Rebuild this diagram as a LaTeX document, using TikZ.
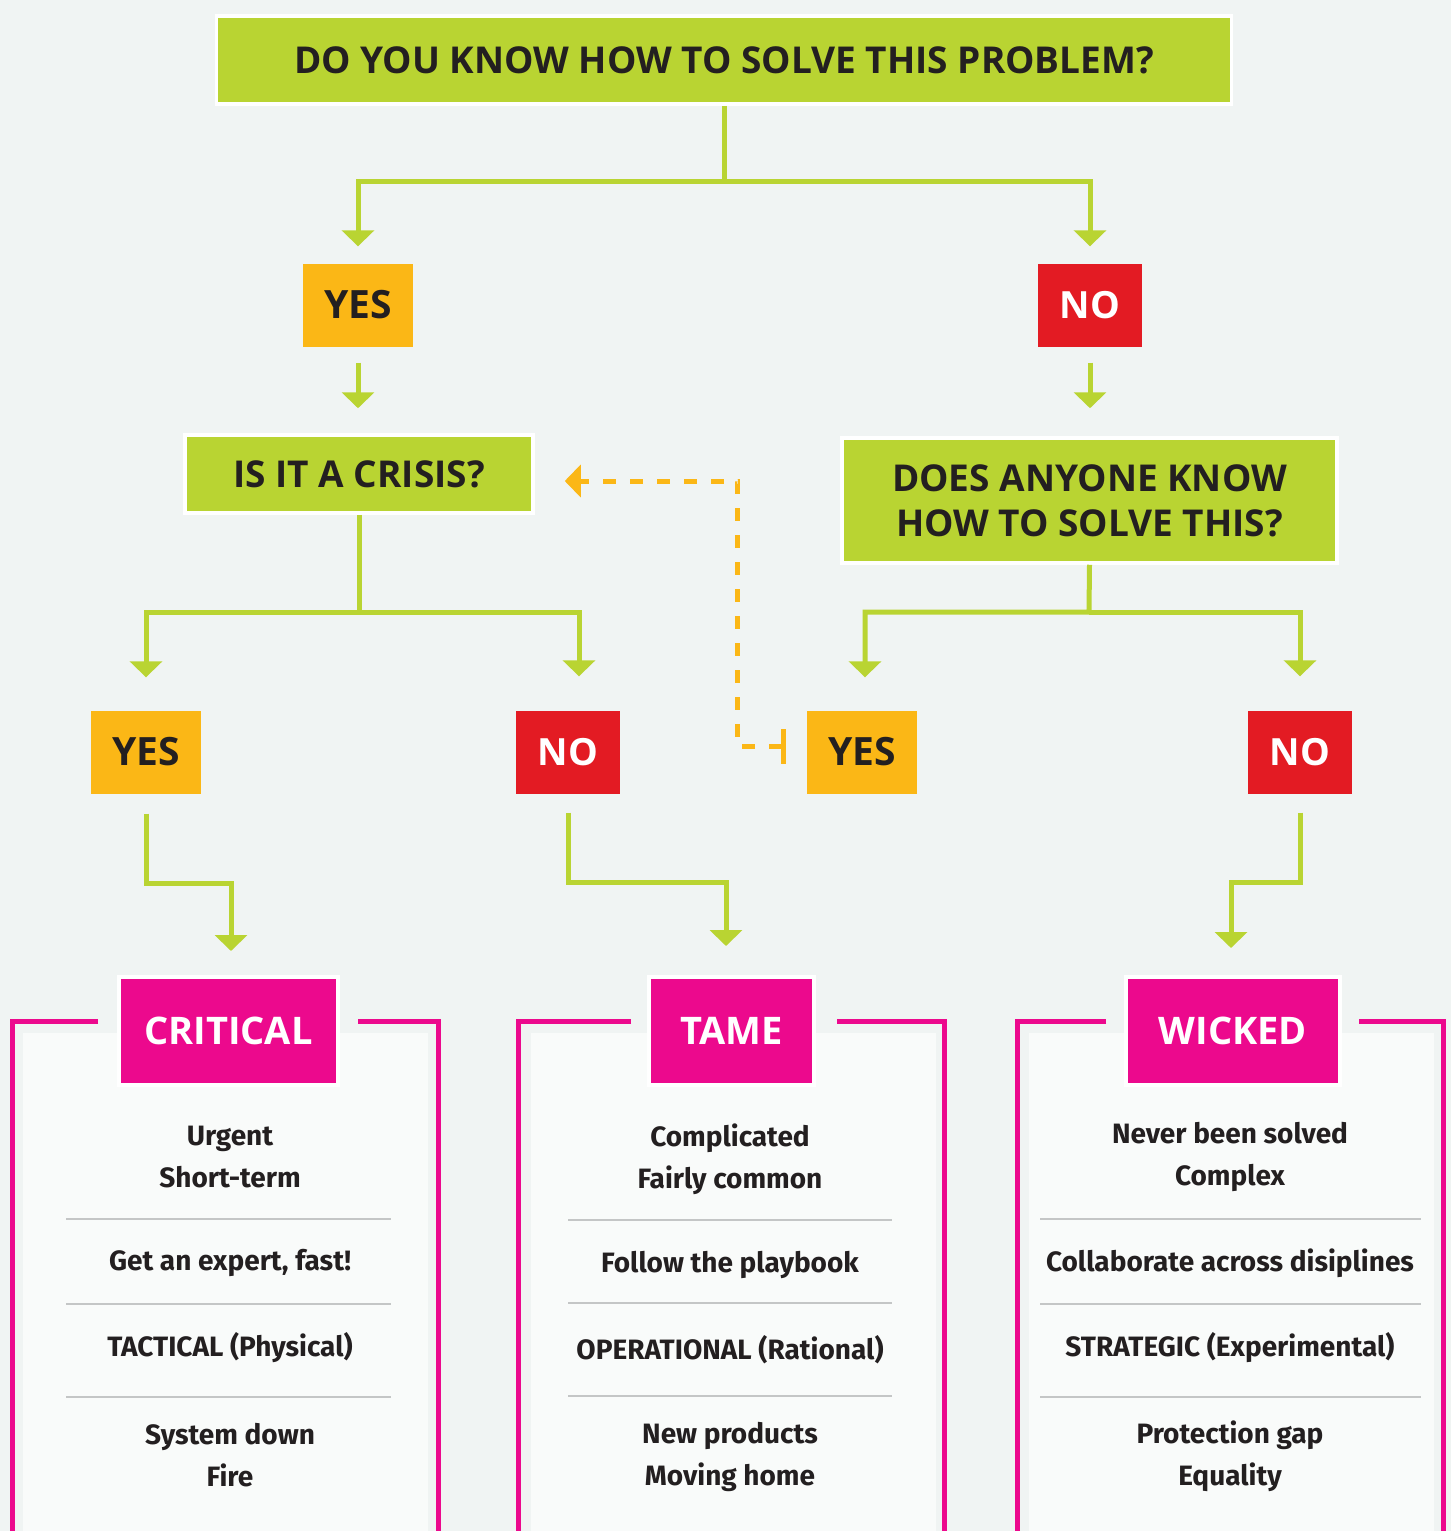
\documentclass[tikz,border=0pt]{standalone}
\usepackage{fontspec}
\setmainfont{Fira Sans}
\newfontfamily\headfont{Open Sans}
\usetikzlibrary{arrows.meta}

\definecolor{paper}{RGB}{240,244,243}
\definecolor{sheet}{RGB}{249,251,250}
\definecolor{askgreen}{RGB}{185,212,50}
\definecolor{yesorange}{RGB}{251,183,22}
\definecolor{nored}{RGB}{227,27,35}
\definecolor{kindpink}{RGB}{236,9,141}
\definecolor{ink}{RGB}{35,31,32}
\definecolor{rulegray}{RGB}{196,198,198}

\tikzset{
  ask/.style={fill=askgreen, draw=white, line width=3.5pt, text=ink, align=center,
    inner sep=0pt, font=\headfont\fontsize{37}{45}\selectfont\bfseries},
  yesbox/.style={fill=yesorange, minimum width=110pt, minimum height=83pt, inner sep=0pt,
    text=ink, font=\headfont\fontsize{39}{40}\selectfont\bfseries},
  nobox/.style={fill=nored, minimum width=104pt, minimum height=83pt, inner sep=0pt,
    text=white, font=\headfont\fontsize{37.5}{40}\selectfont\bfseries},
  kind/.style={fill=kindpink, draw=white, line width=4pt, minimum height=108pt, inner sep=0pt,
    text=white, font=\headfont\fontsize{38}{40}\selectfont\bfseries},
  item/.style={text=ink, align=center, inner sep=0pt, font=\fontsize{28}{42}\selectfont\bfseries},
  flow/.style={draw=askgreen, line width=5pt, -{Triangle[width=32pt,length=16pt]}},
  goback/.style={draw=yesorange, line width=5pt, dash pattern=on 13pt off 14pt,
    {Bar[width=35pt]}-{Triangle[width=32pt,length=16pt]}},
  frame/.style={draw=kindpink, line width=5pt},
  sep/.style={draw=rulegray, line width=1.5pt},
}

\begin{document}
\begin{tikzpicture}[x=1pt,y=-1pt]

  \fill[paper] (0,0) rectangle (1451,1531);
  \useasboundingbox (0,0) rectangle (1451,1531);

  % questions and answers
  \node[ask, minimum width=1015pt, minimum height=88pt] (know) at (724,60)
    {DO YOU KNOW HOW TO SOLVE THIS PROBLEM?};
  \node[yesbox] (yes1) at (358,305) {YES};
  \node[nobox]  (no1)  at (1090,305) {NO};
  \node[ask, minimum width=348pt, minimum height=78pt] (crisis) at (359,474)
    {IS IT A CRISIS?};
  \node[ask, minimum width=495pt, minimum height=125pt] (anyone) at (1089.5,500.5)
    {DOES ANYONE KNOW\\HOW TO SOLVE THIS?};
  \node[yesbox] (yes2) at (146,752) {YES};
  \node[nobox]  (no2)  at (568,752) {NO};
  \node[yesbox] (yes3) at (862,752) {YES};
  \node[nobox]  (no3)  at (1300,752) {NO};

  \coordinate (split1) at (724,181);
  \coordinate (split2) at (359,612);
  \coordinate (split3) at (1089,612);

  % panels
  \fill[sheet] (23,1033) rectangle (428,1540);
  \fill[sheet] (531,1033) rectangle (936,1540);
  \fill[sheet] (1029,1033) rectangle (1434,1540);

  \node[kind, minimum width=219pt] (critical) at (228.5,1031) {CRITICAL};
  \node[kind, minimum width=165pt] (tame)     at (731.5,1031) {TAME};
  \node[kind, minimum width=214pt] (wicked)   at (1233,1031)  {WICKED};

  \draw[frame] (98,1021.5) -- (12.5,1021.5) -- (12.5,1540);
  \draw[frame] (358,1021.5) -- (438.5,1021.5) -- (438.5,1540);
  \draw[frame] (631,1021.5) -- (518.5,1021.5) -- (518.5,1540);
  \draw[frame] (837,1021.5) -- (944.5,1021.5) -- (944.5,1540);
  \draw[frame] (1106,1021.5) -- (1017.5,1021.5) -- (1017.5,1540);
  \draw[frame] (1359,1021.5) -- (1443.5,1021.5) -- (1443.5,1540);

  \node[item] (c1) at (230,1157) {Urgent\\Short-term};
  \node[item] (c2) at (230,1263) {Get an expert, fast!};
  \node[item] (c3) at (230,1348) {TACTICAL (Physical)};
  \node[item] (c4) at (230,1455) {System down\\Fire};

  \node[item] (t1) at (730,1159) {Complicated\\Fairly common};
  \node[item] (t2) at (730,1265) {Follow the playbook};
  \node[item] (t3) at (730,1350) {OPERATIONAL (Rational)};
  \node[item] (t4) at (730,1457) {New products\\Moving home};

  \node[item] (w1) at (1230,1157) {Never been solved\\Complex};
  \node[item] (w2) at (1230,1263) {Collaborate across disiplines};
  \node[item] (w3) at (1230,1348) {STRATEGIC (Experimental)};
  \node[item] (w4) at (1230,1456) {Protection gap\\Equality};

  \draw[sep] (66,1219) -- (391,1219);
  \draw[sep] (66,1304) -- (391,1304);
  \draw[sep] (66,1397) -- (391,1397);
  \draw[sep] (568,1220) -- (892,1220);
  \draw[sep] (568,1303) -- (892,1303);
  \draw[sep] (568,1396) -- (892,1396);
  \draw[sep] (1040,1219) -- (1421,1219);
  \draw[sep] (1040,1304) -- (1421,1304);
  \draw[sep] (1040,1397) -- (1421,1397);

  % connectors
  \draw[flow, shorten >=17pt] (know.south) -- (split1) -| (yes1.north);
  \draw[flow, shorten >=17pt] (split1) -| (no1.north);
  \draw[flow, shorten <=16pt, shorten >=25pt] (yes1.south) -- (yes1.south |- crisis.north);
  \draw[flow, shorten <=16pt, shorten >=28pt] (no1.south) -- (no1.south |- anyone.north);
  \draw[flow, shorten >=33pt] (crisis.south) -- (split2) -| (yes2.north);
  \draw[flow, shorten >=34pt] (split2) -| ([xshift=11pt]no2.north);
  \draw[flow, shorten >=33pt] (anyone.south) -- (split3) -| ([xshift=3pt]yes3.north);
  \draw[flow, shorten >=34pt] (split3) -| (no3.north);

  \draw[flow, shorten <=20pt, shorten >=24pt] (yes2.south) -- ++(0,90) -| ([xshift=2.5pt]critical.north);
  \draw[flow, shorten <=19pt, shorten >=29pt] (no2.south) -- ++(0,89) -| ([xshift=-5.5pt]tame.north);
  \draw[flow, shorten <=19pt, shorten >=27pt] (no3.south) -- ++(0,89) -| ([xshift=-2pt]wicked.north);

  \draw[goback, shorten >=30pt] ([xshift=-21pt,yshift=5.5pt]yes3.west) -- ++(-48,0)
    |- ([yshift=-7pt]crisis.east);

\end{tikzpicture}
\end{document}
